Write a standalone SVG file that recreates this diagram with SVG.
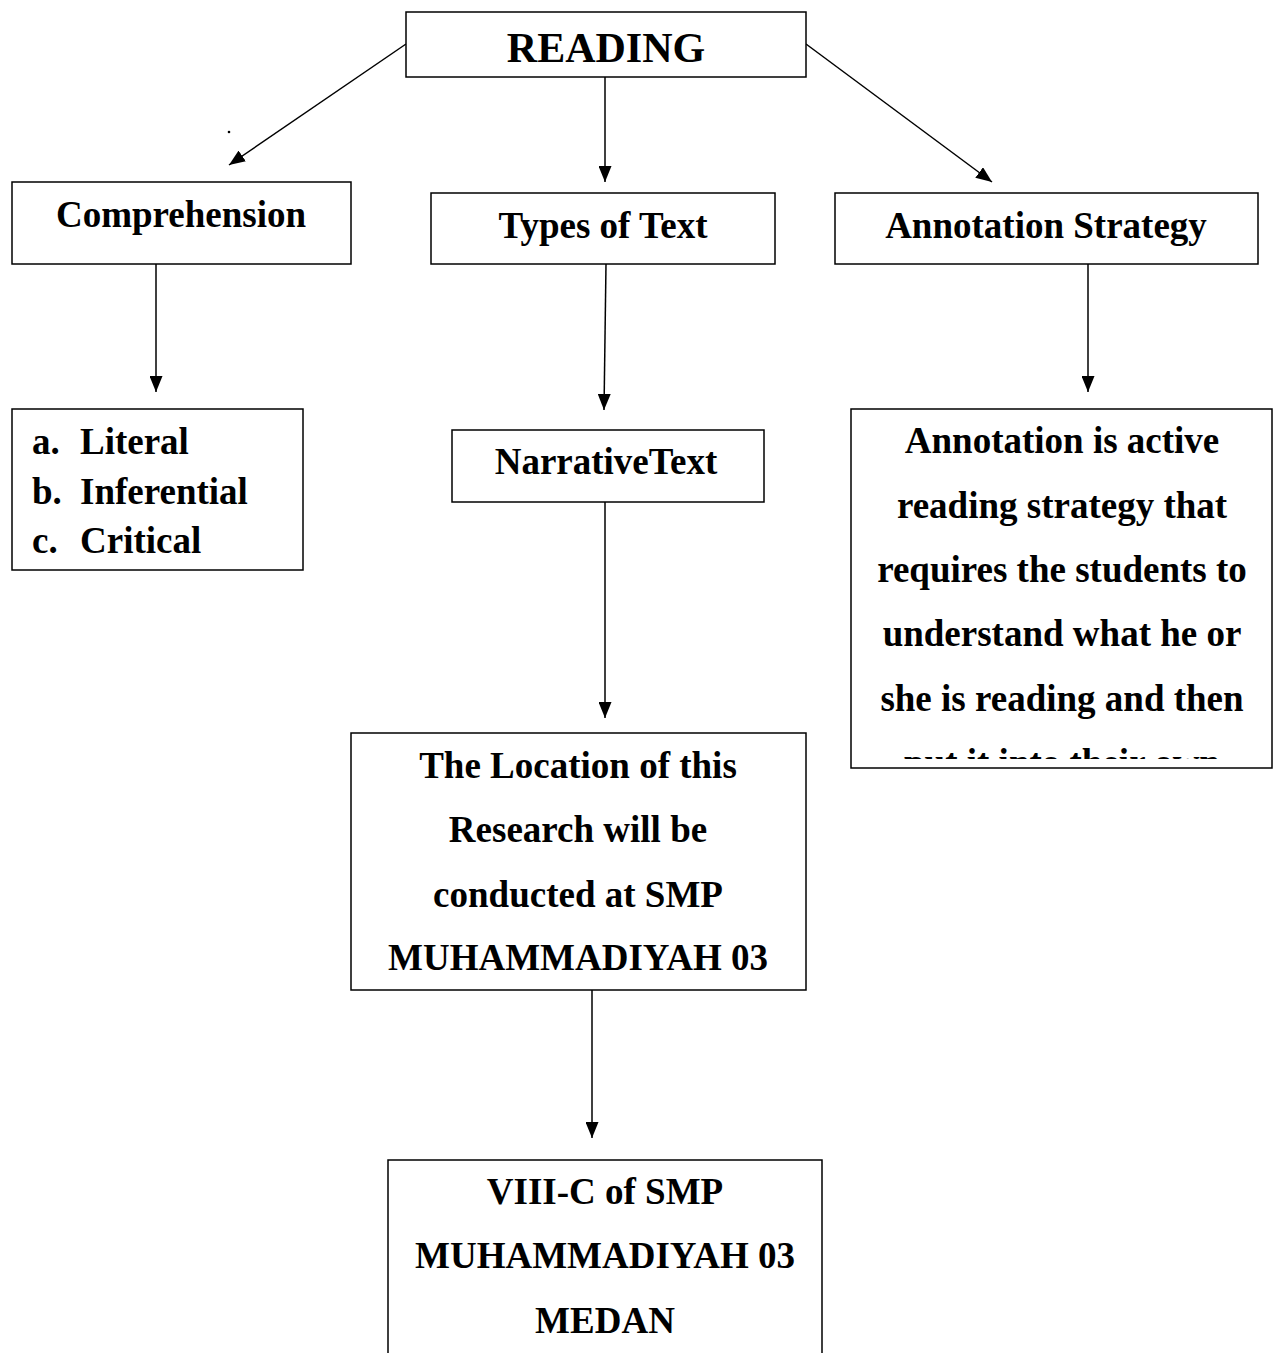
<svg xmlns="http://www.w3.org/2000/svg" width="1273" height="1353" viewBox="0 0 1273 1353">
<style>
.box{fill:#fff;stroke:#000;stroke-width:1.5}
.t{font-family:"Liberation Serif","Times New Roman",serif;font-weight:bold;font-size:37px;fill:#000}
.c{text-anchor:middle}
.ln{stroke:#000;stroke-width:1.5;fill:none;marker-end:url(#ah)}
</style>
<defs>
<marker id="ah" viewBox="0 0 16 13" refX="16" refY="6.5" markerWidth="16" markerHeight="13" markerUnits="userSpaceOnUse" orient="auto">
<path d="M0,0 L16,6.5 L0,13 z" fill="#000"/>
</marker>
<clipPath id="clipAnn"><rect x="851" y="409" width="421" height="350"/></clipPath>
</defs>
<rect width="1273" height="1353" fill="#fff"/>
<g id="connectors">
<line class="ln" x1="406" y1="44" x2="229" y2="165"/>
<line class="ln" x1="605" y1="77" x2="605" y2="182"/>
<line class="ln" x1="806" y1="44" x2="992" y2="182"/>
<line class="ln" x1="156" y1="264" x2="156" y2="392"/>
<line class="ln" x1="606" y1="264" x2="604" y2="410"/>
<line class="ln" x1="1088" y1="264" x2="1088" y2="392"/>
<line class="ln" x1="605" y1="502" x2="605" y2="718"/>
<line class="ln" x1="592" y1="990" x2="592" y2="1138"/>
<circle cx="229" cy="132" r="1.3" fill="#000"/>
</g>
<g id="reading">
<rect class="box" x="406" y="12" width="400" height="65"/>
<text class="t c" x="606" y="62" style="font-size:42px">READING</text>
</g>
<g id="comprehension">
<rect class="box" x="12" y="182" width="339" height="82"/>
<text class="t c" x="181" y="227">Comprehension</text>
</g>
<g id="types">
<rect class="box" x="431" y="193" width="344" height="71"/>
<text class="t c" x="603" y="238">Types of Text</text>
</g>
<g id="annotation">
<rect class="box" x="835" y="193" width="423" height="71"/>
<text class="t c" x="1046" y="238">Annotation Strategy</text>
</g>
<g id="levels">
<rect class="box" x="12" y="409" width="291" height="161"/>
<text class="t" x="32" y="454">a.</text><text class="t" x="80" y="454">Literal</text>
<text class="t" x="32" y="504">b.</text><text class="t" x="80" y="504">Inferential</text>
<text class="t" x="32" y="553">c.</text><text class="t" x="80" y="553">Critical</text>
</g>
<g id="narrative">
<rect class="box" x="452" y="430" width="312" height="72"/>
<text class="t c" x="606" y="474">NarrativeText</text>
</g>
<g id="annotation-def">
<rect class="box" x="851" y="409" width="421" height="359"/>
<g clip-path="url(#clipAnn)">
<text class="t c" x="1062" y="453">Annotation is active</text>
<text class="t c" x="1062" y="518">reading strategy that</text>
<text class="t c" x="1062" y="582">requires the students to</text>
<text class="t c" x="1062" y="646">understand what he or</text>
<text class="t c" x="1062" y="711">she is reading and then</text>
<text class="t c" x="1062" y="775">put it into their own</text>
</g>
</g>
<g id="location">
<rect class="box" x="351" y="733" width="455" height="257"/>
<text class="t c" x="578" y="778">The Location of this</text>
<text class="t c" x="578" y="842">Research will be</text>
<text class="t c" x="578" y="907">conducted at SMP</text>
<text class="t c" x="578" y="970">MUHAMMADIYAH 03</text>
</g>
<g id="class">
<path class="box" d="M388,1360 V1160 H822 V1360"/>
<text class="t c" x="605" y="1204">VIII-C of SMP</text>
<text class="t c" x="605" y="1268">MUHAMMADIYAH 03</text>
<text class="t c" x="605" y="1333">MEDAN</text>
</g>
</svg>
